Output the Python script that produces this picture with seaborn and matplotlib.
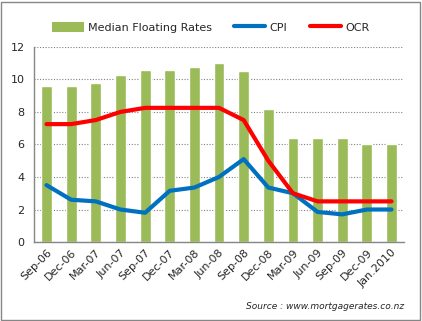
import matplotlib
matplotlib.use("Agg")
import matplotlib.pyplot as plt
from matplotlib.patches import Patch
import seaborn as sns
import pandas as pd
import numpy as np

categories = ["Sep-06", "Dec-06", "Mar-07", "Jun-07", "Sep-07", "Dec-07", "Mar-08", "Jun-08",
              "Sep-08", "Dec-08", "Mar-09", "Jun-09", "Sep-09", "Dec-09", "Jan.2010"]
floating = [9.6, 9.6, 9.8, 10.3, 10.55, 10.55, 10.75, 11.0, 10.5, 8.2, 6.4, 6.4, 6.4, 6.0, 6.0]
cpi = [3.5, 2.6, 2.5, 2.0, 1.8, 3.15, 3.35, 4.0, 5.1, 3.35, 3.0, 1.85, 1.7, 2.0, 2.0]
ocr = [7.25, 7.25, 7.5, 8.0, 8.25, 8.25, 8.25, 8.25, 7.5, 5.0, 3.0, 2.5, 2.5, 2.5, 2.5]
yticks = [0, 2, 4, 6, 8, 10, 12]

sns.set_style("white")
plt.rcParams['font.family'] = ['DejaVu Sans']

df = pd.DataFrame({"cat": categories, "floating": floating, "cpi": cpi, "ocr": ocr})

fig = plt.figure(figsize=(4.22, 3.21), dpi=100)
ax = fig.add_axes([0.081, 0.246, 0.876, 0.608])

sns.barplot(data=df, x="cat", y="floating", color="#9BBB59", width=0.44, ax=ax,
            saturation=1, zorder=2)
sns.lineplot(x=np.arange(len(categories)), y=cpi, color="#0070C0", lw=3, ax=ax,
             label="CPI", zorder=3)
sns.lineplot(x=np.arange(len(categories)), y=ocr, color="#FF0000", lw=3, ax=ax,
             label="OCR", zorder=4)

ax.set_xlim(-0.5, len(categories) - 0.5)
ax.set_ylim(0, 12)
ax.set_yticks(yticks)
ax.set_yticklabels([str(v) for v in yticks], fontsize=8)
ax.set_xlabel("")
ax.set_ylabel("")
ax.yaxis.grid(True, linestyle=(0, (1, 1.5)), color="#808080", lw=0.8, zorder=0)
ax.xaxis.grid(False)
ax.set_axisbelow(True)
for s in ["top", "right"]:
    ax.spines[s].set_visible(False)
for s in ["left", "bottom"]:
    ax.spines[s].set_color("#868686")
    ax.spines[s].set_linewidth(1)

ax.set_xticks(np.arange(len(categories)))
ax.set_xticklabels(categories, rotation=45, ha="right", rotation_mode="anchor", fontsize=8)
ax.tick_params(axis="x", length=0, pad=4)
ax.set_xticks(np.arange(-0.5, len(categories)), minor=True)
ax.tick_params(axis="x", which="minor", length=4, color="#868686", width=1, direction="out")
ax.tick_params(axis="y", length=4, color="#868686", width=1, direction="out", pad=3)

handles, labels = ax.get_legend_handles_labels()
handles = [Patch(facecolor="#9BBB59", edgecolor="none")] + handles
labels = ["Median Floating Rates"] + labels
fig.legend(handles, labels, loc="center", bbox_to_anchor=(0.5, 0.915), ncol=3,
           frameon=False, fontsize=8, handlelength=2.8, handleheight=1.0,
           columnspacing=2.0, handletextpad=0.4)
if ax.get_legend() is not None:
    ax.get_legend().remove()

fig.text(0.958, 0.045, "Source : www.mortgagerates.co.nz", ha="right", va="center",
         fontsize=6.5, style="italic")

fig.patches.append(plt.Rectangle((0.003, 0.004), 0.993, 0.99, transform=fig.transFigure,
                                 fill=False, edgecolor="#868686", lw=1))

fig.savefig("out.png", dpi=100)
